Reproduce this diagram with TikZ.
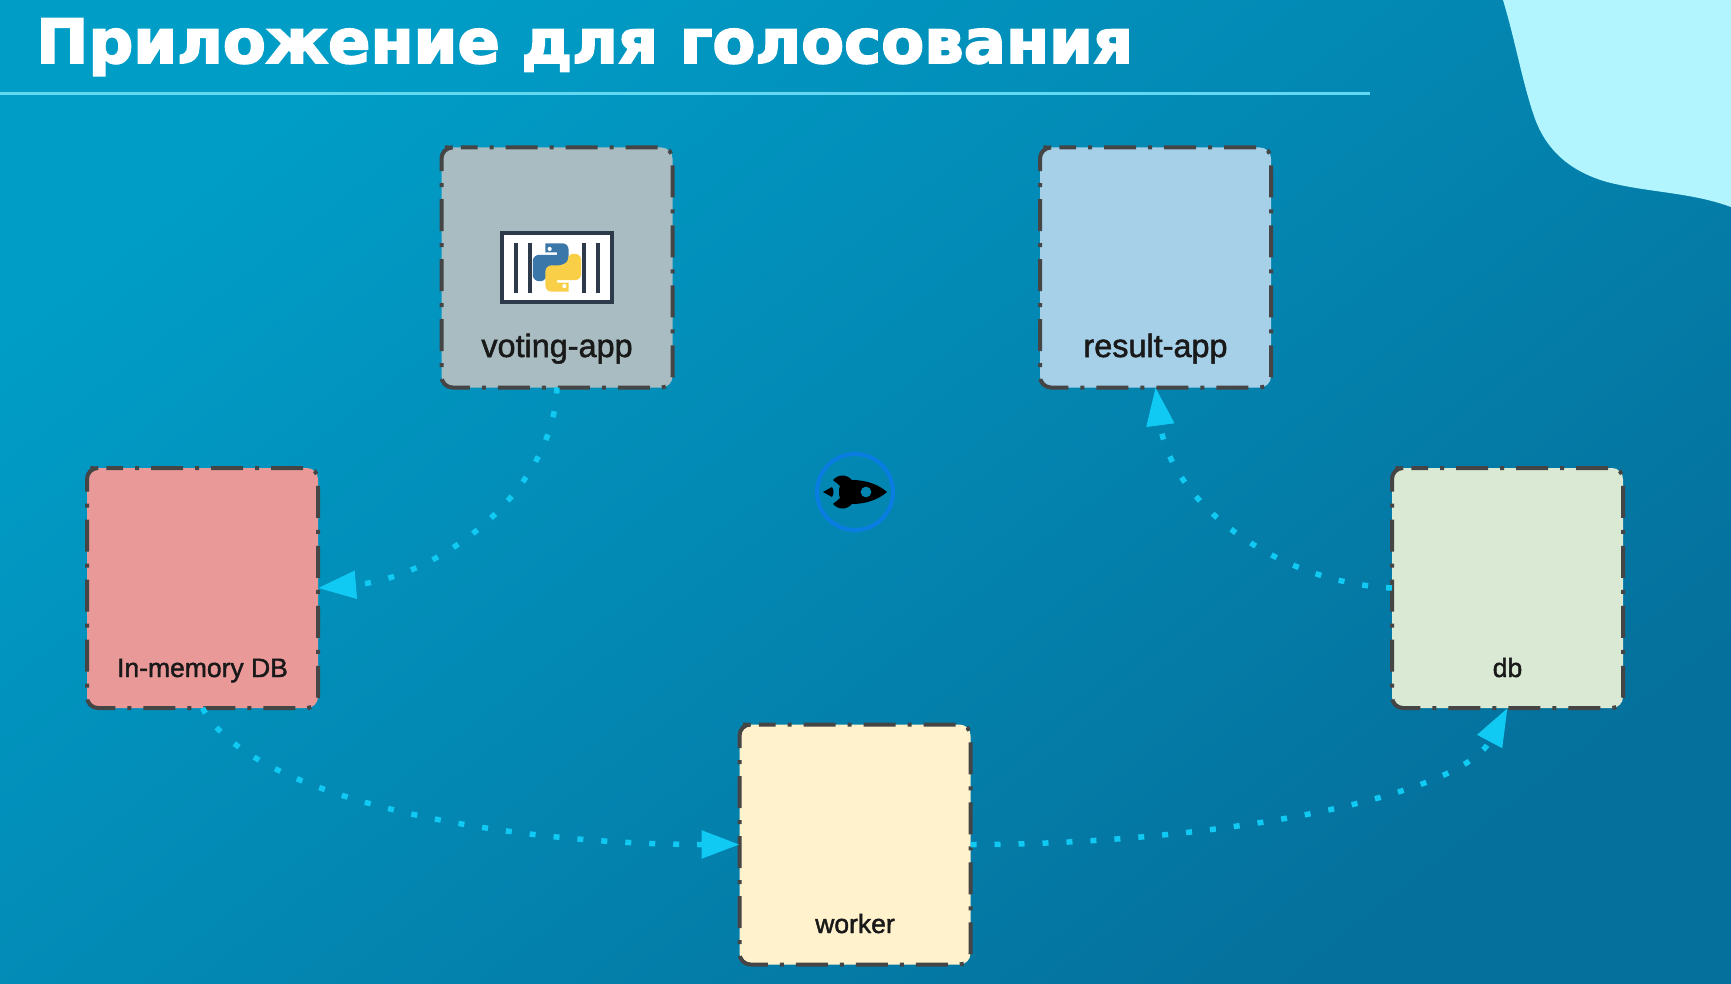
\documentclass[tikz,border=0pt]{standalone}
\usepackage{fontspec}
\setmainfont{Liberation Sans}
\newfontfamily\titlefont[FakeBold=3,FakeStretch=1.025]{DejaVu Sans Bold}
\newfontfamily\labelfont[FakeBold=1.6]{Liberation Sans}
\usetikzlibrary{arrows.meta,calc}
\definecolor{bgA}{HTML}{009DC7}
\definecolor{bgB}{HTML}{0087AF}
\definecolor{bgC}{HTML}{05709C}
\definecolor{blob}{HTML}{B2F5FF}
\definecolor{rule}{HTML}{62D9F0}
\definecolor{edgeC}{HTML}{454545}
\definecolor{flow}{HTML}{10CAF4}
\definecolor{ring}{HTML}{0A7DE2}
\definecolor{pyblue}{HTML}{3B77A8}
\definecolor{pyyellow}{HTML}{F9CF47}
\definecolor{crate}{HTML}{2C3A4A}
\tikzset{
  svcbox/.style={minimum width=231pt,minimum height=240pt,inner sep=0pt,outer sep=0pt,rounded corners=11pt},
  svcedge/.style={draw=edgeC,line width=4pt,rounded corners=11pt,dash pattern=on 32pt off 12pt on 4pt off 12pt,dash phase=18pt},
  biglabel/.style={font=\labelfont\fontsize{32.4}{33}\selectfont,text=black!90,inner sep=0pt,anchor=base},
  smalllabel/.style={font=\labelfont\fontsize{26.5}{27}\selectfont,text=black!90,inner sep=0pt,anchor=base},
  flowline/.style={draw=flow,line width=5.5pt,dash pattern=on 6pt off 18pt,
    -{Triangle[length=38pt,width=27pt,fill=flow]}},
}
\newcommand{\boxedge}[1]{\draw[svcedge] ($(#1.north west)+(11,0)$) -- (#1.north east) -- (#1.south east) -- (#1.south west) -- (#1.north west) -- cycle;}
\newcommand{\snake}{(-11,-23) [rounded corners=6pt] -- (11,-23) -- (11,2) -- (-7,2) [rounded corners=4pt] -- (-11,7) -- (-11,13) [rounded corners=6pt] -- (-23,13) -- (-23,-12) [sharp corners] -- (0,-12) -- (0,-14.5) -- (-11,-14.5) -- cycle}
\begin{document}
\begin{tikzpicture}[x=1pt,y=-1pt]
\useasboundingbox (0,0) rectangle (1731,984);
\shade[shading=axis,top color=bgA,middle color=bgB,bottom color=bgC,shading angle=38] (0,0) rectangle (1731,984);
\fill[blob] (1503,0) .. controls (1515,40) and (1522,80) .. (1533,113)
  .. controls (1543,145) and (1565,170) .. (1607,182)
  .. controls (1650,193) and (1690,192) .. (1731,207) -- (1731,0) -- cycle;
\coordinate (ruleA) at (0,93.5);
\coordinate (ruleB) at (1370,93.5);
\draw[rule,line width=2.5pt] (ruleA) -- (ruleB);
\node[font=\titlefont\fontsize{61}{64}\selectfont,text=white,anchor=base west,inner sep=0pt] (title) at (36,63) {Приложение для голосования};

\node[svcbox,fill={rgb,255:red,168;green,188;blue,193}] (voting) at (557,267.5) {};
\node[svcbox,fill={rgb,255:red,166;green,207;blue,232}] (result) at (1155.5,267.5) {};
\node[svcbox,fill={rgb,255:red,234;green,153;blue,153}] (mem) at (202.5,588) {};
\node[svcbox,fill={rgb,255:red,217;green,233;blue,211}] (db) at (1507.5,588) {};
\node[svcbox,fill={rgb,255:red,255;green,242;blue,204}] (worker) at (855,844.5) {};
\boxedge{voting}\boxedge{result}\boxedge{mem}\boxedge{db}\boxedge{worker}

\node[biglabel] (votinglabel) at (557,357) {voting-app};
\node[biglabel] (resultlabel) at (1155.5,357) {result-app};
\node[smalllabel] (memlabel) at (202.5,677) {In-memory DB};
\node[smalllabel] (dblabel) at (1507.5,677) {db};
\node[smalllabel] (workerlabel) at (855,933) {worker};

% python crate icon
\node[draw=crate,fill=white,line width=3.5pt,minimum width=110pt,minimum height=69pt,inner sep=0pt] (crateicon) at (557,267.5) {};
\foreach \bx in {516,529.5,584,598}{
  \draw[crate,line width=4pt] (\bx,243) -- (\bx,293);
}
\begin{scope}[shift={(557,267.5)},scale=1.05]
  \fill[pyblue] \snake;
  \fill[white] (-7,-17.7) circle (2pt);
  \begin{scope}[rotate=180]
    \fill[pyyellow] \snake;
    \fill[white] (-7,-17.7) circle (2pt);
  \end{scope}
\end{scope}

% rocket
\node[draw=ring,line width=4pt,circle,minimum size=76pt,inner sep=0pt] (rocket) at (855,492) {};
\begin{scope}[shift={(855,492)}]
  \fill[black,even odd rule]
    (32,0) .. controls (24,-7) and (12,-12) .. (-3,-12)
    .. controls (-6,-15) and (-9,-16.5) .. (-13,-16.5)
    .. controls (-17,-16.5) and (-20,-14) .. (-22,-12)
    .. controls (-19,-9) and (-16,-8) .. (-15,-6)
    -- (-16,-3) -- (-16,3) -- (-15,6)
    .. controls (-16,8) and (-19,9) .. (-22,12)
    .. controls (-20,14) and (-17,16.5) .. (-13,16.5)
    .. controls (-9,16.5) and (-6,15) .. (-3,12)
    .. controls (12,12) and (24,7) .. (32,0) -- cycle
    (11,0) circle (5.5pt);
  \fill[black] (-32,0) -- (-23,-5) .. controls (-21,-2) and (-21,2) .. (-23,5) -- cycle;
\end{scope}

% connectors
\draw[flowline] (voting.south) .. controls ($(voting.south)+(-4,107.5)$) and ($(mem.east)+(117,-10)$) .. (mem.east);
\draw[flowline] (mem.south) .. controls ($(mem.south)+(48,90)$) and ($(worker.west)+(-240,0)$) .. (worker.west);
\draw[flowline] (worker.east) .. controls ($(worker.east)+(240,0)$) and ($(db.south)+(-48,90)$) .. (db.south);
\draw[flowline] (db.west) .. controls ($(db.west)+(-120,-6)$) and ($(result.south)+(14.5,112)$) .. (result.south);
\end{tikzpicture}
\end{document}
